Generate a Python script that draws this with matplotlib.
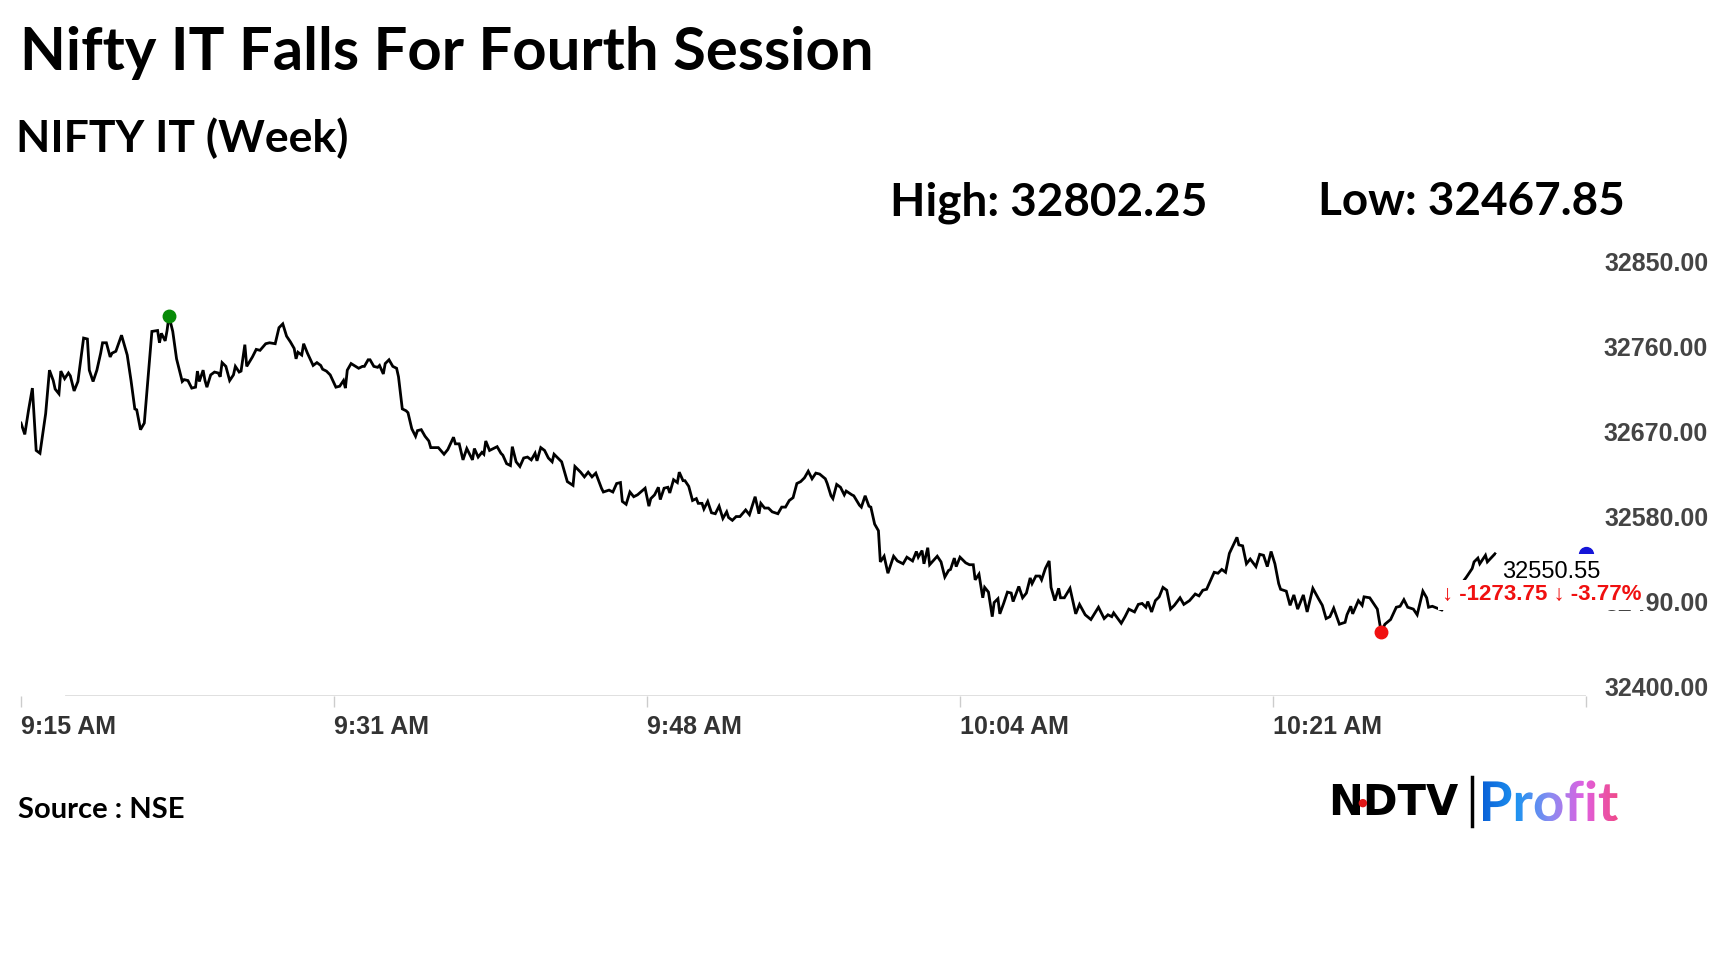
import numpy as np
import matplotlib
matplotlib.use('Agg')
import matplotlib.pyplot as plt
from matplotlib.textpath import TextPath
from matplotlib.patches import PathPatch
from matplotlib.font_manager import FontProperties
from matplotlib.colors import LinearSegmentedColormap
from matplotlib.lines import Line2D

title = "Nifty IT Falls For Fourth Session"
subtitle = "NIFTY IT (Week)"
source = "Source : NSE"

day_high = 32802.25
day_low = 32467.85
last_price = 32550.55
change = -1273.75
change_pct = -3.77

# minutes after 9:15 AM
minutes = [
    0.0, 0.2, 0.4, 0.6, 0.8, 1.0, 1.3, 1.5, 1.7, 1.8,
    2.0, 2.1, 2.3, 2.5, 2.6, 2.8, 3.0, 3.3, 3.5, 3.6,
    3.8, 4.0, 4.2, 4.3, 4.5, 4.7, 4.8, 5.0, 5.3, 5.6,
    5.8, 6.0, 6.1, 6.3, 6.5, 6.7, 6.9, 7.2, 7.3, 7.4,
    7.6, 7.7, 7.8, 8.0, 8.2, 8.5, 8.6, 8.8, 9.0, 9.2,
    9.3, 9.4, 9.6, 9.7, 9.8, 10.0, 10.2, 10.4, 10.5, 10.6,
    10.8, 11.0, 11.2, 11.3, 11.5, 11.6, 11.8, 11.9, 12.2, 12.4,
    12.6, 12.9, 13.1, 13.4, 13.6, 13.8, 14.0, 14.2, 14.4, 14.5,
    14.6, 14.8, 14.9, 15.1, 15.4, 15.6, 15.8, 15.9, 16.1, 16.3,
    16.6, 16.8, 17.0, 17.1, 17.2, 17.4, 17.8, 18.0, 18.1, 18.3,
    18.4, 18.6, 18.8, 18.9, 19.1, 19.2, 19.4, 19.6, 19.8, 19.9,
    20.1, 20.3, 20.4, 20.6, 20.8, 20.9, 21.1, 21.3, 21.5, 21.6,
    21.8, 22.0, 22.3, 22.5, 22.8, 22.9, 23.1, 23.3, 23.5, 23.8,
    23.9, 24.1, 24.3, 24.4, 24.5, 24.7, 25.1, 25.3, 25.4, 25.6,
    25.8, 25.9, 26.1, 26.3, 26.5, 26.7, 26.9, 27.1, 27.2, 27.4,
    27.6, 27.8, 28.0, 28.1, 28.3, 28.5, 28.8, 29.1, 29.2, 29.5,
    29.7, 29.9, 30.1, 30.3, 30.6, 30.7, 31.0, 31.2, 31.4, 31.6,
    31.7, 31.9, 32.1, 32.3, 32.5, 32.9, 33.1, 33.2, 33.4, 33.6,
    33.7, 33.9, 34.1, 34.2, 34.4, 34.6, 34.7, 34.9, 35.0, 35.2,
    35.4, 35.6, 35.7, 35.9, 36.0, 36.2, 36.4, 36.6, 36.8, 37.0,
    37.2, 37.3, 37.5, 37.7, 37.9, 38.2, 38.4, 38.7, 38.9, 39.0,
    39.2, 39.4, 39.6, 39.9, 40.1, 40.3, 40.5, 40.7, 40.9, 41.1,
    41.3, 41.5, 41.7, 41.9, 42.1, 42.4, 42.5, 42.7, 42.8, 43.0,
    43.2, 43.4, 43.5, 43.8, 43.9, 44.2, 44.3, 44.5, 44.7, 44.8,
    45.0, 45.2, 45.3, 45.5, 45.7, 46.0, 46.2, 46.5, 46.7, 47.0,
    47.2, 47.3, 47.5, 47.6, 47.8, 47.9, 48.3, 48.5, 48.7, 48.9,
    49.0, 49.2, 49.3, 49.5, 49.8, 50.0, 50.2, 50.3, 50.5, 50.7,
    50.8, 51.0, 51.2, 51.3, 51.5, 51.6, 51.8, 52.0, 52.2, 52.3,
    52.6, 52.8, 53.0, 53.2, 53.3, 53.5, 53.7, 53.8, 54.0, 54.2,
    54.3, 54.5, 54.7, 54.8, 55.0, 55.3, 55.6, 55.8, 56.1, 56.4,
    56.8, 57.1, 57.3, 57.5, 57.6, 58.0, 58.2, 58.4, 58.7, 58.9,
    59.1, 59.3, 59.4, 59.6, 59.8, 60.0,
    60.2, 60.4, 60.6, 60.8, 61.1, 61.3, 61.6, 61.9, 62.1, 62.3,
    62.5, 62.9, 63.1, 63.3, 63.5, 63.7, 64.1, 64.2, 64.4, 64.6,
    64.8, 65.1, 65.3, 65.5, 65.7, 65.9, 66.1, 66.3, 66.4, 66.7,
    66.9, 67.1, 67.3, 67.6, 67.8, 68.1, 68.4, 68.6, 68.8, 69.0,
    69.2, 69.5, 69.8, 69.9, 70.1, 70.2, 70.5, 70.7, 70.8, 71.1,
    71.4, 71.5, 71.7, 71.9, 72.2, 72.5, 72.7, 72.9, 73.1, 73.4,
    73.6, 73.9, 74.1, 74.2, 74.4, 74.9,
    76.2, 76.5, 76.6, 76.8, 76.9, 77.2, 77.3, 77.7,
]

prices = [
    32689, 32677, 32703, 32726, 32660, 32657, 32699, 32745, 32734, 32725,
    32720, 32744, 32736, 32742, 32739, 32723, 32733, 32779, 32778, 32745,
    32733, 32745, 32763, 32774, 32774, 32759, 32763, 32765, 32782, 32761,
    32734, 32704, 32703, 32682, 32689, 32738, 32786, 32787, 32774, 32784,
    32776, 32787, 32802.25, 32786, 32757, 32733, 32735, 32734, 32726, 32727,
    32744, 32733, 32745, 32734, 32727, 32740, 32743, 32742, 32738, 32753,
    32749, 32734, 32740, 32749, 32743, 32744, 32772, 32749, 32759, 32767,
    32766, 32773, 32774, 32773, 32790, 32794, 32781, 32775, 32768, 32757,
    32764, 32761, 32773, 32763, 32750, 32753, 32750, 32746, 32744, 32740,
    32727, 32728, 32734, 32726, 32745, 32752, 32747, 32749, 32749, 32756,
    32756, 32749, 32748, 32750, 32741, 32752, 32756, 32749, 32747, 32738,
    32704, 32702, 32700, 32683, 32675, 32681, 32682, 32675, 32670, 32663,
    32663, 32663, 32656, 32661, 32674, 32667, 32667, 32650, 32662, 32650,
    32662, 32653, 32658, 32656, 32670, 32660, 32664, 32657, 32655, 32646,
    32644, 32664, 32648, 32643, 32652, 32653, 32650, 32657, 32649, 32663,
    32660, 32652, 32648, 32656, 32652, 32648, 32627, 32623, 32643, 32637,
    32632, 32637, 32632, 32636, 32620, 32616, 32618, 32616, 32625, 32626,
    32606, 32603, 32616, 32611, 32613, 32620, 32601, 32609, 32613, 32621,
    32608, 32620, 32621, 32615, 32629, 32626, 32637, 32628, 32628, 32622,
    32607, 32609, 32604, 32604, 32598, 32606, 32594, 32593, 32601, 32588,
    32595, 32589, 32586, 32590, 32590, 32597, 32592, 32611, 32593, 32604,
    32599, 32599, 32595, 32593, 32600, 32600, 32607, 32610, 32625, 32627,
    32631, 32638, 32630, 32636, 32635, 32630, 32625, 32612, 32609, 32624,
    32621, 32613, 32617, 32613, 32612, 32602, 32600, 32612, 32601, 32600,
    32582, 32575, 32542, 32548, 32530, 32548, 32543, 32540, 32547, 32543,
    32553, 32547, 32554, 32540, 32557, 32539, 32548, 32542, 32526, 32533,
    32534, 32546, 32537, 32547, 32541, 32539, 32539, 32523, 32529, 32504,
    32515, 32510, 32484, 32499, 32503, 32487, 32498, 32510, 32509, 32500,
    32516, 32504, 32509, 32525, 32519, 32527, 32527, 32523, 32535, 32543,
    32515, 32501, 32514, 32504, 32504, 32514, 32487, 32497, 32486, 32481,
    32494, 32482, 32486, 32484, 32488, 32477, 32484, 32492, 32489, 32497,
    32498, 32494, 32500, 32489, 32501, 32505,
    32515, 32512, 32492, 32496, 32504, 32497, 32501, 32508, 32506, 32512,
    32513, 32531, 32530, 32534, 32531, 32551, 32568, 32560, 32559, 32540,
    32545, 32537, 32550, 32549, 32537, 32553, 32540, 32519, 32513, 32511,
    32496, 32507, 32492, 32507, 32489, 32514, 32503, 32496, 32482, 32484,
    32493, 32476, 32478, 32486, 32495, 32487, 32501, 32496, 32505, 32504,
    32495, 32492, 32467.85, 32476, 32481, 32494, 32495, 32502, 32494, 32492,
    32486, 32511, 32504, 32494, 32495, 32491,
    32526, 32535, 32542, 32546, 32540, 32549, 32542, 32550.55,
]

tick_minutes = [0, 16.5, 33, 49.5, 66, 82.5]
tick_labels = ["9:15 AM", "9:31 AM", "9:48 AM", "10:04 AM", "10:21 AM", ""]
y_ticks = [32400, 32490, 32580, 32670, 32760, 32850]

W, H = 1728, 972
fig = plt.figure(figsize=(W / 100, H / 100), dpi=100)
fig.patch.set_facecolor('white')

ax = fig.add_axes([21 / W, 1 - 696 / H, 1565 / W, 425 / H])
ax.set_xlim(tick_minutes[0], tick_minutes[-1])
ax.set_ylim(y_ticks[0], y_ticks[-1])

ax.plot(minutes, prices, color='black', lw=2.0, solid_joinstyle='miter', zorder=3)

hi = int(np.argmax(prices))
lo = int(np.argmin(prices))
ax.plot(minutes[hi], prices[hi], 'o', color='#078a07', ms=9, zorder=4, clip_on=False)
ax.plot(minutes[lo], prices[lo], 'o', color='#f01010', ms=9, zorder=4, clip_on=False)
ax.plot(tick_minutes[-1], last_price, 'o', color='#1515d8', ms=10, zorder=4, clip_on=False)

for s in ax.spines.values():
    s.set_visible(False)
ax.axhline(y_ticks[0], xmin=0.029, xmax=1, color='#dddddd', lw=1.3, zorder=1)

ax.set_xticks(tick_minutes)
ax.set_xticklabels(tick_labels)
ax.tick_params(axis='x', length=8, width=1, color='#cccccc', pad=5.5,
               labelsize=18, labelcolor='#333333')
for lab in ax.get_xticklabels():
    lab.set_ha('left')
    lab.set_fontfamily('Liberation Sans')
    lab.set_fontweight('bold')

ax.yaxis.tick_right()
ax.set_yticks(y_ticks)
ax.set_yticklabels([f"{v:.2f}" for v in y_ticks])
ax.tick_params(axis='y', length=0, pad=88, labelsize=18, labelcolor='#444444')
for lab in ax.get_yticklabels():
    lab.set_ha('right')
    lab.set_va('baseline')
    lab.set_fontfamily('Liberation Sans')
    lab.set_fontweight('bold')

# last price and change labels
ax.text(78.1, 32531, f"{last_price:.2f}", fontsize=17, color='black',
        family='Liberation Sans', va='center', ha='left', zorder=6,
        bbox=dict(facecolor='white', edgecolor='none', pad=5))
ax.text(74.9, 32507, f"\u2193 {change:.2f} \u2193 {change_pct:.2f}%", fontsize=16,
        color='#f01010', family='Liberation Sans', weight='bold', va='center',
        ha='left', zorder=6, bbox=dict(facecolor='white', edgecolor='none', pad=3))

# headings
fig.text(20 / W, 1 - 70 / H, title, fontsize=43, weight='bold', family='Lato',
         va='baseline', color='black')
fig.text(16 / W, 1 - 152 / H, subtitle, fontsize=32, weight='bold', family='Lato',
         va='baseline', color='black')
fig.text(890 / W, 1 - 215 / H, f"High: {day_high:.2f}", fontsize=33, weight='bold',
         family='Lato', va='baseline', color='black')
fig.text(1318 / W, 1 - 215 / H, f"Low: {day_low:.2f}", fontsize=33, weight='bold',
         family='Lato', va='baseline', color='black')
fig.text(18 / W, 1 - 818 / H, source, fontsize=21, weight='bold', family='Lato',
         va='baseline', color='black')

# logo
fig.text(1328 / W, 1 - 815 / H, "NDTV", fontsize=30, weight='bold',
         family='DejaVu Sans', va='baseline', color='black')
fig.text(1362 / W, 1 - 803 / H, "\u25cf", fontsize=8, color='#e01818',
         family='DejaVu Sans', va='center', ha='center')
fig.add_artist(Line2D([1472 / W, 1472 / W], [1 - 826 / H, 1 - 777 / H],
                      color='black', lw=2.5))

tp = TextPath((0, 0), "Profit", size=1, prop=FontProperties(family='Lato', weight='bold'))
bb = tp.get_extents()
lw_px = 135
lh_px = lw_px * bb.height / bb.width
lax = fig.add_axes([1483 / W, 1 - (821 + (-bb.y0) * lh_px / bb.height) / H,
                    lw_px / W, lh_px / H])
lax.axis('off')
patch = PathPatch(tp, facecolor='none', edgecolor='none')
lax.add_patch(patch)
cmap = LinearSegmentedColormap.from_list(
    'profit', ['#0a62d8', '#1f93f0', '#8a8cf2', '#e060e0', '#f04a8a'])
grad = np.linspace(0, 1, 256).reshape(1, -1)
im = lax.imshow(grad, extent=[bb.x0, bb.x1, bb.y0, bb.y1], cmap=cmap, aspect='auto')
im.set_clip_path(patch)
lax.set_xlim(bb.x0, bb.x1)
lax.set_ylim(bb.y0, bb.y1)

fig.savefig('out.png', dpi=100, facecolor='white')
